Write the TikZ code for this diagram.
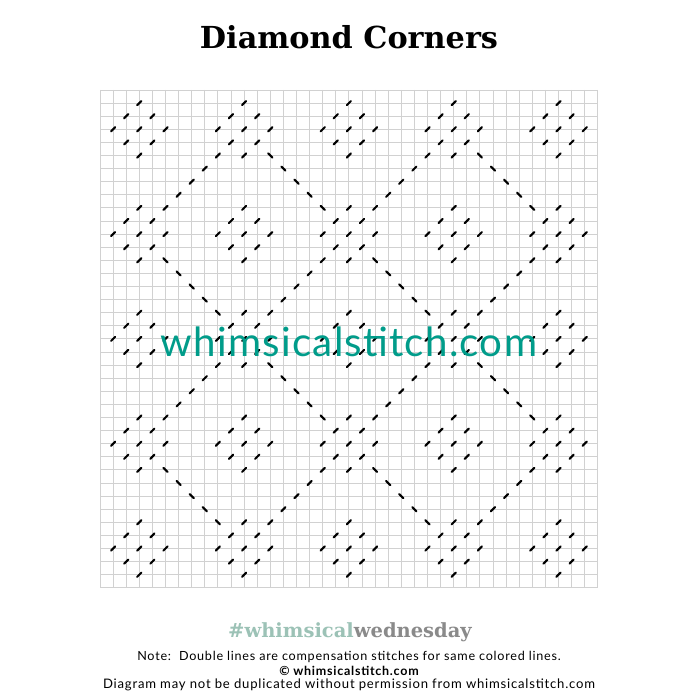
\documentclass[tikz,border=0pt]{standalone}
\usepackage{fontspec}
\setmainfont{Lato}
\newfontfamily\slabfont{DejaVu Serif}
\newfontfamily\spacedfont{Lato}[LetterSpace=6]
\newfontfamily\markfont{Lato}[LetterSpace=3]
\usetikzlibrary{positioning}
\definecolor{markteal}{HTML}{009C8A}
\definecolor{hashteal}{HTML}{9CC2B6}
\definecolor{hashgray}{HTML}{8A8A8A}
% one stitch on a grid point, leaning / or \
\newcommand*{\fwd}[2]{\draw[stitch] (#1-0.16,#2+0.16) -- (#1+0.16,#2-0.16);}
\newcommand*{\bck}[2]{\draw[stitch] (#1-0.16,#2-0.16) -- (#1+0.16,#2+0.16);}

\begin{document}
\begin{tikzpicture}[x=1pt, y=-1pt,
    gridline/.style = {draw=black!18, line width=0.9pt},
    stitch/.style   = {black, line width=2.1pt, line cap=round},
    caption/.style  = {inner sep=0pt, font=\spacedfont\fontsize{12.6}{14}\selectfont}]
  \useasboundingbox[fill=white] (0,0) rectangle (700,700);

  \node[inner sep=0pt, font=\slabfont\bfseries\fontsize{30.3}{34}\selectfont]
    (title) at (349,37) {Diamond Corners};

  \begin{scope}[shift={(100,90)}, x=13.1pt, y=-13.1pt]
    % chart grid
    \foreach \i in {0,...,38} {
      \draw[gridline] (\i,0) -- (\i,38);
      \draw[gridline] (0,\i) -- (38,\i);
    }
    % small diamonds
    \foreach \cx in {3,11,19,27,35}
      \foreach \cy in {3,11,19,27,35}
        \foreach \dx/\dy in {0/-2,-1/-1,1/-1,-2/0,0/0,2/0,-1/1,1/1,0/2}
          {\fwd{\cx+\dx}{\cy+\dy}}
    % big diamonds
    \foreach \cx in {11,27}
      \foreach \cy in {11,27}
        \foreach \k in {2,...,6} {
          \fwd{\cx-8+\k}{\cy-\k}
          \bck{\cx+\k}{\cy-8+\k}
          \fwd{\cx+8-\k}{\cy+\k}
          \bck{\cx-\k}{\cy+8-\k}
        }
  \end{scope}

  \node[inner sep=0pt, text=markteal, font=\markfont\fontsize{40.3}{42}\selectfont]
    (mark) at (349,342) {whimsicalstitch.com};

  \node[inner sep=0pt, font=\slabfont\bfseries\fontsize{19.5}{24}\selectfont]
    (tag) at (350,632) {\textcolor{hashteal}{\#whimsical}\textcolor{hashgray}{wednesday}};
  \node[caption] (note) at (349,657)
    {Note:\ \ Double lines are compensation stitches for same colored lines.};
  \node[caption, font=\spacedfont\bfseries\fontsize{12.5}{14}\selectfont, below=3pt of note]
    (copy) {\textcopyright\ whimsicalstitch.com};
  \node[caption, font=\spacedfont\fontsize{13.1}{14}\selectfont, below=3pt of copy] (rights)
    {Diagram may not be duplicated without permission from whimsicalstitch.com};
\end{tikzpicture}
\end{document}
